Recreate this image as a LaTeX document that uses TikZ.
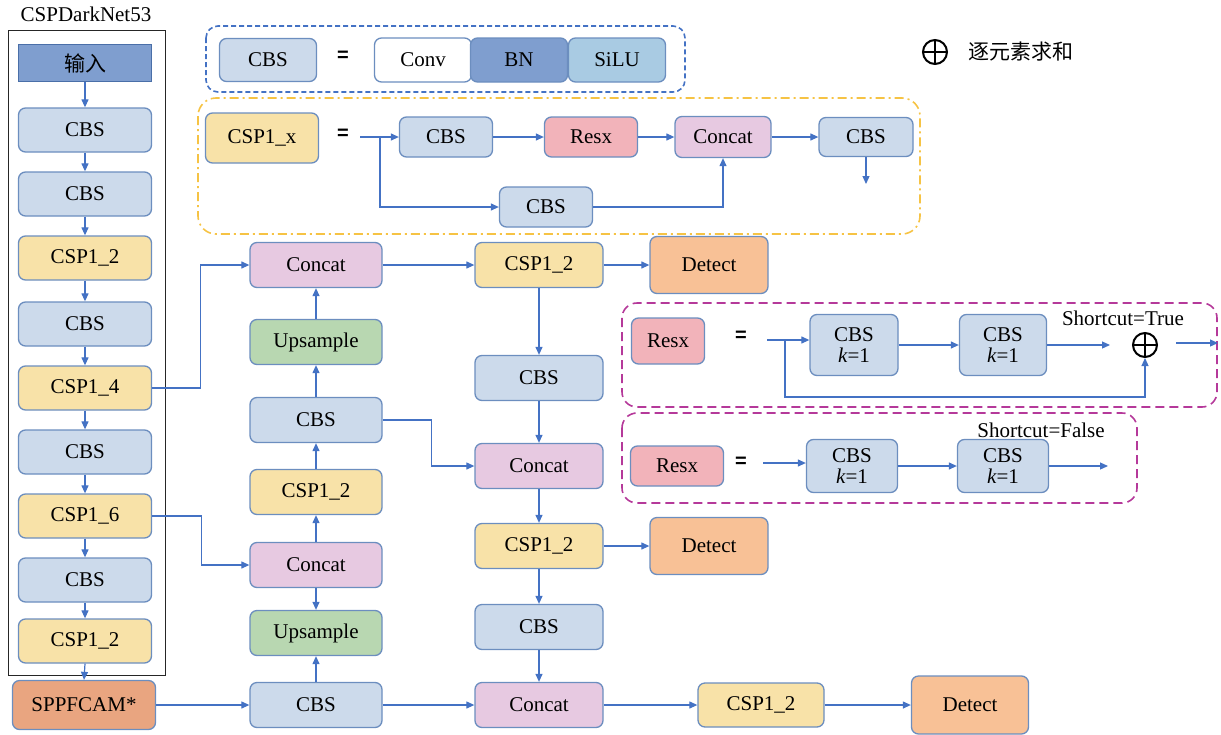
\documentclass[tikz,border=0pt]{standalone}
\usepackage{fontspec}
\setmainfont{Liberation Serif}
\newfontfamily\cjk{Noto Sans CJK SC}
\newfontfamily\eqfont{Liberation Sans}
\usetikzlibrary{arrows.meta}

\definecolor{arr}{HTML}{4472C4}
\definecolor{bord}{HTML}{6C8EBF}
\definecolor{cbsc}{HTML}{CCDAEB}
\definecolor{cspc}{HTML}{F8E2A8}
\definecolor{catc}{HTML}{E7C9E1}
\definecolor{upc}{HTML}{B8D7B1}
\definecolor{detc}{HTML}{F8C196}
\definecolor{sppc}{HTML}{E9A580}
\definecolor{resc}{HTML}{F2B3BA}
\definecolor{inc}{HTML}{7F9ECF}
\definecolor{inb}{HTML}{4A6FA8}
\definecolor{siluc}{HTML}{A9CBE3}
\definecolor{ylw}{HTML}{F6C344}
\definecolor{mag}{HTML}{B5399A}

\begin{document}
\begin{tikzpicture}[x=1pt,y=-1pt,
  font=\fontsize{21}{23}\selectfont,
  blk/.style={draw=bord, line width=1.3pt, rounded corners=7pt, inner sep=0pt, align=center},
  cbs/.style={blk, fill=cbsc},
  csp/.style={blk, fill=cspc},
  cat/.style={blk, fill=catc},
  ups/.style={blk, fill=upc},
  det/.style={blk, fill=detc},
  res/.style={blk, fill=resc},
  sz/.style 2 args={minimum width=#1pt, minimum height=#2pt},
  colL/.style={sz={133}{44}},
  colA/.style={sz={132}{45}},
  colB/.style={sz={128}{45}},
  lk/.style={draw=arr, line width=1.2pt, -{Triangle[length=8pt,width=7pt]}},
  ln/.style={draw=arr, line width=1.2pt},
  eqs/.style={font=\eqfont\bfseries\fontsize{20}{22}\selectfont},
  kbox/.style={font=\fontsize{21}{21}\selectfont},
  oplus/.style={circle, draw=black, line width=2pt, minimum size=24pt, inner sep=0pt}
]
\useasboundingbox (0,0) rectangle (1221,734);

% ---------- backbone ----------
\draw[black!85, line width=0.9pt] (8,30) rectangle (165,675);
\node (bbt) at (86,14) {CSPDarkNet53};
\node[draw=inb, fill=inc, line width=1.3pt, inner sep=0pt, sz={133}{37}] (L0) at (85,63) {\cjk 输入};
\node[cbs, colL] (L1) at (85,130) {CBS};
\node[cbs, colL] (L2) at (85,194) {CBS};
\node[csp, colL] (L3) at (85,258) {CSP1\_2};
\node[cbs, colL] (L4) at (85,324) {CBS};
\node[csp, colL] (L5) at (85,388) {CSP1\_4};
\node[cbs, colL] (L6) at (85,452) {CBS};
\node[csp, colL] (L7) at (85,516) {CSP1\_6};
\node[cbs, colL] (L8) at (85,580) {CBS};
\node[csp, colL] (L9) at (85,641) {CSP1\_2};
\node[blk, fill=sppc, sz={143}{49}] (SPP) at (84,705) {SPPFCAM*};

% ---------- neck column A ----------
\node[cat, colA] (M1) at (316,265) {Concat};
\node[ups, colA] (M2) at (316,342) {Upsample};
\node[cbs, colA] (M3) at (316,420) {CBS};
\node[csp, colA] (M4) at (316,492) {CSP1\_2};
\node[cat, colA] (M5) at (316,565) {Concat};
\node[ups, colA] (M6) at (316,633) {Upsample};
\node[cbs, colA] (M7) at (316,705) {CBS};

% ---------- neck column B ----------
\node[csp, colB] (N1) at (539,265) {CSP1\_2};
\node[cbs, colB] (N2) at (539,378) {CBS};
\node[cat, colB] (N3) at (539,466) {Concat};
\node[csp, colB] (N4) at (539,546) {CSP1\_2};
\node[cbs, colB] (N5) at (539,627) {CBS};
\node[cat, colB] (N6) at (539,705) {Concat};

\node[det, sz={118}{57}] (D1) at (709,265) {Detect};
\node[det, sz={118}{57}] (D2) at (709,546) {Detect};
\node[csp, sz={126}{44}] (B1) at (761,705) {CSP1\_2};
\node[det, sz={117}{58}] (D3) at (970,705) {Detect};

% backbone arrows
\foreach \a/\b in {L0/L1,L1/L2,L2/L3,L3/L4,L4/L5,L5/L6,L6/L7,L7/L8,L8/L9,L9/SPP}
  \draw[lk] (\a.south) -- (\b.north);
\draw[lk] (L5.east) -- ++(48,0) |- (M1.west);
\draw[lk] (L7.east) -- ++(49,0) |- (M5.west);
\draw[lk] (SPP.east) -- (M7.west);

% column A arrows
\draw[lk] (M7.north) -- (M6.south);
\draw[lk] (M5.south) -- (M6.north);
\draw[lk] (M5.north) -- (M4.south);
\draw[lk] (M4.north) -- (M3.south);
\draw[lk] (M3.north) -- (M2.south);
\draw[lk] (M2.north) -- (M1.south);
\draw[lk] (M1.east) -- (N1.west);
\draw[lk] (M3.east) -- ++(49,0) |- (N3.west);
\draw[lk] (M7.east) -- (N6.west);

% column B arrows
\draw[lk] (N1.east) -- (D1.west);
\draw[lk] (N1.south) -- (N2.north);
\draw[lk] (N2.south) -- (N3.north);
\draw[lk] (N3.south) -- (N4.north);
\draw[lk] (N4.east) -- (D2.west);
\draw[lk] (N4.south) -- (N5.north);
\draw[lk] (N5.south) -- (N6.north);
\draw[lk] (N6.east) -- (B1.west);
\draw[lk] (B1.east) -- (D3.west);

% ---------- CBS legend ----------
\draw[draw=arr, line width=1.6pt, dash pattern=on 5pt off 3pt, rounded corners=12pt] (206,26) rectangle (685,92);
\node[cbs, sz={97}{43}] (G0) at (268,60) {CBS};
\node[eqs] (G1) at (343,56) {=};
\node[blk, fill=white, sz={97}{44}] (G2) at (423,60) {Conv};
\node[blk, fill=inc, sz={97}{44}] (G3) at (519,60) {BN};
\node[blk, fill=siluc, sz={97}{44}] (G4) at (617,60) {SiLU};

\node[oplus] (P0) at (935,52) {};
\draw[line width=2pt] (P0.north) -- (P0.south) (P0.west) -- (P0.east);
\node (P1) at (1021,52) {\cjk 逐元素求和};

% ---------- CSP1_x ----------
\draw[draw=ylw, line width=1.6pt, dash pattern=on 9pt off 4pt on 2pt off 4pt, rounded corners=18pt] (198,98) rectangle (920,234);
\node[csp, sz={113}{50}] (X0) at (262,138) {CSP1\_x};
\node[eqs] (X6) at (343,134) {=};
\coordinate (xa) at (360,137);
\coordinate (xb) at (380,137);
\node[cbs, sz={93}{40}] (X1) at (446,137) {CBS};
\node[res, sz={93}{40}] (X2) at (591,137) {Resx};
\node[cat, sz={96}{41}] (X3) at (723,137) {Concat};
\node[cbs, sz={94}{39}] (X4) at (866,137) {CBS};
\node[cbs, sz={93}{40}] (X5) at (546,207) {CBS};
\coordinate (xe) at (866,184);
\draw[ln] (xa) -- (xb);
\draw[lk] (xb) -- (X1.west);
\draw[lk] (xb) |- (X5.west);
\draw[lk] (X1.east) -- (X2.west);
\draw[lk] (X2.east) -- (X3.west);
\draw[lk] (X5.east) -| (X3.south);
\draw[lk] (X3.east) -- (X4.west);
\draw[lk] (X4.south) -- (xe);

% ---------- Resx, shortcut true ----------
\draw[draw=mag, line width=1.6pt, dash pattern=on 9pt off 5pt, rounded corners=15pt] (622,303) rectangle (1217,407);
\node[res, sz={73}{46}] (R0) at (668,341) {Resx};
\node[eqs] (R6) at (741,336) {=};
\node[cbs, sz={88}{61}, kbox] (R1) at (854,345) {CBS\\\textit{k}=1};
\node[cbs, sz={87}{61}, kbox] (R2) at (1003,345) {CBS\\\textit{k}=1};
\node[oplus] (RP) at (1145,345) {};
\draw[line width=2pt] (RP.north) -- (RP.south) (RP.west) -- (RP.east);
\node (RT) at (1123,318) {Shortcut=True};
\coordinate (ra) at (767,340);
\coordinate (rb) at (785,340);
\coordinate (rc) at (785,397);
\coordinate (rd) at (1145,397);
\coordinate (rq) at (1110,345);
\coordinate (rs) at (1176,343);
\coordinate (re) at (1218,343);
\draw[ln] (ra) -- (rb);
\draw[lk] (rb) -- (R1.west |- rb);
\draw[lk] (R1.east) -- (R2.west);
\draw[lk] (R2.east) -- (rq);
\draw[lk] (rb) -- (rc) -- (rd) -- (RP.south);
\draw[lk] (rs) -- (re);

% ---------- Resx, shortcut false ----------
\draw[draw=mag, line width=1.6pt, dash pattern=on 9pt off 5pt, rounded corners=15pt] (622,413) rectangle (1137,503);
\node[res, sz={93}{40}] (S0) at (677,466) {Resx};
\node[eqs] (S6) at (741,462) {=};
\node[cbs, sz={91}{53}, kbox] (F1) at (852,466) {CBS\\\textit{k}=1};
\node[cbs, sz={91}{53}, kbox] (F2) at (1003,466) {CBS\\\textit{k}=1};
\node (FT) at (1041,430) {Shortcut=False};
\coordinate (fa) at (763,463);
\coordinate (fe) at (1108,466);
\draw[lk] (fa) -- (F1.west |- fa);
\draw[lk] (F1.east) -- (F2.west);
\draw[lk] (F2.east) -- (fe);
\end{tikzpicture}
\end{document}
